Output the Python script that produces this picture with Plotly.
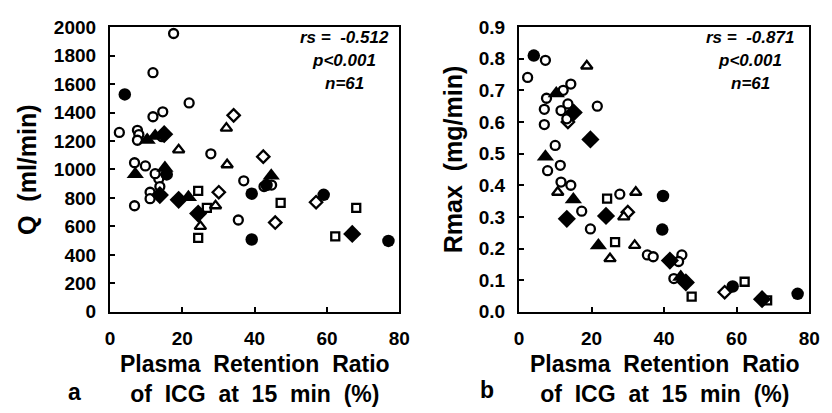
import plotly.graph_objects as go

W, H = 832, 413

# ---- Panel a: hepatic blood flow Q (ml/min) vs ICG R15 (%) ----
a_open_circle_x = [17.6, 11.9, 21.9, 11.9, 14.6, 2.6, 7.6, 8.0, 7.6, 14.4, 27.9, 6.8, 9.8,
                   13.5, 37.0, 44.7, 11.1, 11.1, 6.8, 35.5, 12.5, 13.8, 42.6]
a_open_circle_y = [1955, 1680, 1467, 1370, 1405, 1260, 1275, 1245, 1205, 1230, 1110, 1047, 1025,
                   935, 920, 890, 840, 795, 745, 645, 970, 880, 880]
a_filled_circle_x = [4.1, 15.7, 39.2, 43.3, 59.1, 39.2, 77.0]
a_filled_circle_y = [1527, 965, 830, 890, 822, 508, 498]
a_open_tri_x = [32.2, 19.0, 32.4, 29.2, 25.0]
a_open_tri_y = [1290, 1138, 1033, 745, 600]
a_filled_tri_x = [10.3, 12.5, 7.0, 15.2, 44.6, 21.7]
a_filled_tri_y = [1207, 1235, 967, 1010, 955, 805]
a_filled_dia_x = [15.0, 13.8, 19.0, 24.4, 67.0]
a_filled_dia_y = [1248, 820, 787, 690, 547]
a_open_dia_x = [34.2, 42.4, 30.1, 45.7, 57.0]
a_open_dia_y = [1380, 1090, 840, 627, 770]
a_open_sq_x = [24.4, 47.2, 68.1, 62.3, 24.4, 26.8]
a_open_sq_y = [850, 765, 730, 530, 520, 730]

# ---- Panel b: Rmax (mg/min) vs ICG R15 (%) ----
b_open_circle_x = [7.3, 2.4, 14.3, 12.2, 7.6, 13.5, 11.6, 7.0, 21.6, 13.2, 7.0, 10.0, 11.4, 7.9,
                   11.6, 14.3, 27.8, 17.3, 19.7, 35.4, 37.0, 44.9, 44.0, 42.7]
b_open_circle_y = [0.795, 0.741, 0.72, 0.70, 0.675, 0.657, 0.636, 0.64, 0.65, 0.61, 0.592, 0.526,
                   0.463, 0.446, 0.41, 0.40, 0.372, 0.318, 0.262, 0.18, 0.174, 0.18, 0.159, 0.105]
b_filled_circle_x = [4.1, 39.7, 39.5, 58.9, 76.8]
b_filled_circle_y = [0.81, 0.366, 0.26, 0.08, 0.057]
b_open_tri_x = [18.7, 10.7, 32.2, 28.9, 25.1, 31.9]
b_open_tri_y = [0.777, 0.378, 0.378, 0.30, 0.168, 0.21]
b_filled_tri_x = [10.3, 7.3, 15.0, 21.9, 44.6]
b_filled_tri_y = [0.69, 0.49, 0.355, 0.21, 0.11]
b_filled_dia_x = [15.1, 19.7, 13.2, 24.0, 41.6, 46.0, 67.0]
b_filled_dia_y = [0.63, 0.545, 0.294, 0.303, 0.162, 0.093, 0.04]
b_open_dia_x = [13.5, 30.0, 56.7]
b_open_dia_y = [0.60, 0.315, 0.062]
b_open_sq_x = [24.3, 26.5, 47.6, 62.2, 68.4]
b_open_sq_y = [0.358, 0.22, 0.048, 0.095, 0.036]

x_ticks = [0, 20, 40, 60, 80]
a_y_ticks = list(range(0, 2001, 200))
b_y_ticks = [round(0.1 * i, 1) for i in range(10)]

stats_a = ["rs =  -0.512", "p<0.001", "n=61"]
stats_b = ["rs =  -0.871", "p<0.001", "n=61"]

FONT = "Liberation Sans"
BLACK = "#000000"


def px(x):
    return x / W


def py(y):
    return 1 - y / H


def marker(symbol, size, filled):
    if filled:
        return dict(symbol=symbol, size=size, color=BLACK, line=dict(width=0))
    return dict(symbol=symbol, size=size, color="white", line=dict(color=BLACK, width=2.3))


groups = [
    ("open_sq", "square", 8, False),
    ("open_dia", "diamond", 9.5, False),
    ("open_tri", "triangle-up", 10, False),
    ("open_circle", "circle", 9, False),
    ("filled_dia", "diamond", 14, True),
    ("filled_tri", "triangle-up", 15, True),
    ("filled_circle", "circle", 12.5, True),
]

data = globals()
fig = go.Figure()
for panel, xa, ya in (("a", "x", "y"), ("b", "x2", "y2")):
    for name, sym, size, filled in groups:
        fig.add_trace(go.Scatter(
            x=data[f"{panel}_{name}_x"], y=data[f"{panel}_{name}_y"],
            mode="markers", marker=marker(sym, size, filled), xaxis=xa, yaxis=ya,
            cliponaxis=False, showlegend=False, hoverinfo="skip"))

axis_common = dict(
    showgrid=False, zeroline=False, showline=True, linecolor=BLACK, linewidth=2,
    mirror=True, ticks="inside", ticklen=5, tickwidth=1.5, tickcolor=BLACK,
    tickfont=dict(family=FONT, size=19, color=BLACK, weight="bold"),
)

fig.update_layout(
    width=W, height=H, margin=dict(l=0, r=0, t=0, b=0),
    paper_bgcolor="white", plot_bgcolor="white",
    font=dict(family=FONT, color=BLACK),
    xaxis=dict(domain=[px(107), px(402)], range=[0, 80], tickvals=x_ticks,
               anchor="y", ticklabelstandoff=8, **axis_common),
    yaxis=dict(domain=[py(318), py(18)], range=[0, 2000], tickvals=a_y_ticks,
               anchor="x", ticklabelstandoff=8, **axis_common),
    xaxis2=dict(domain=[px(524), px(820)], range=[0, 80], tickvals=x_ticks,
                anchor="y2", ticklabelstandoff=8, **axis_common),
    yaxis2=dict(domain=[py(318), py(18)], range=[0, 0.9], tickvals=b_y_ticks,
                tickformat=".1f", anchor="x2", ticklabelstandoff=8, **axis_common),
)

title_font = dict(family=FONT, size=23, color=BLACK)
ytitle_font = dict(family=FONT, size=25, color=BLACK)
stat_font = dict(family=FONT, size=17, color=BLACK)


def text(x, y, s, font, angle=0):
    fig.add_annotation(x=px(x), y=py(y), xref="paper", yref="paper", text=s,
                       showarrow=False, font=font, textangle=angle,
                       xanchor="center", yanchor="middle")


# axis titles (x title as one two-line block)
for cx in (255, 673):
    text(cx, 389, "<b>Plasma  Retention  Ratio<br>of  ICG  at  15  min  (%)</b>", title_font)
text(23, 168, "<b>Q  (ml/min)</b>", ytitle_font, angle=-90)
text(457, 157, "<b>Rmax  (mg/min)</b>", ytitle_font, angle=-90)

# panel letters
text(71, 402, "<b>a</b>", title_font)
text(491, 400, "<b>b</b>", title_font)

# correlation statistics
for cx, lines in ((346, stats_a), (760, stats_b)):
    for yy, s in zip((29, 53, 77), lines):
        text(cx, yy, f"<b><i>{s}</i></b>", stat_font)

fig.write_html("out.html")
